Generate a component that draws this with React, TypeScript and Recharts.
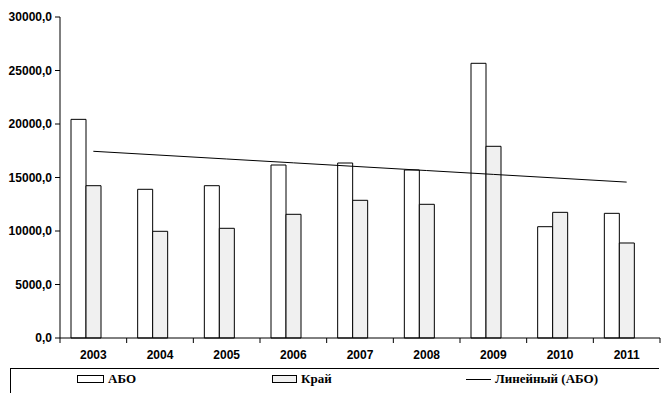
import { ComposedChart, Bar, Line, XAxis, YAxis } from 'recharts';

const years = ['2003', '2004', '2005', '2006', '2007', '2008', '2009', '2010', '2011'];
const abo = [20435, 13897, 14234, 16168, 16355, 15700, 25673, 10402, 11651];
const krai = [14234, 9972, 10252, 11560, 12869, 12495, 17916, 11745, 8879];
// linear trend of АБО
const aboTrend = [17450, 17090, 16730, 16370, 16010, 15650, 15290, 14930, 14570];
const yTicks = [0, 5000, 10000, 15000, 20000, 25000, 30000];

const data = years.map((year, i) => ({
  year,
  abo: abo[i],
  krai: krai[i],
  trend: aboTrend[i],
}));

const fmt = (v: number) => `${v},0`;

const BAND = 600 / years.length;

function YearTick(props: any) {
  const { x, y, payload, index } = props;
  const left = x - BAND / 2;
  return (
    <g>
      <line x1={left} y1={y - 8} x2={left} y2={y - 3} stroke="#000" />
      {index === years.length - 1 && (
        <line x1={left + BAND} y1={y - 8} x2={left + BAND} y2={y - 3} stroke="#000" />
      )}
      <text
        x={x}
        y={y + 13}
        textAnchor="middle"
        fontSize={12}
        fontWeight="bold"
        fontFamily="'Liberation Sans', Arial, sans-serif"
        fill="#000"
      >
        {payload.value}
      </text>
    </g>
  );
}

function LegendBox() {
  const item = { position: 'absolute' as const, top: 0, display: 'flex', alignItems: 'center', height: 20 };
  const txt = {
    fontFamily: "'Liberation Serif', 'Times New Roman', serif",
    fontWeight: 700,
    fontSize: 13,
    color: '#000',
    marginLeft: 4,
  };
  return (
    <div
      style={{
        position: 'absolute',
        left: 10,
        top: 368,
        width: 648,
        height: 30,
        borderTop: '1px solid #000',
        borderLeft: '1px solid #000',
      }}
    >
      <div style={{ ...item, left: 66 }}>
        <div style={{ width: 25, height: 6, border: '1px solid #000', background: '#fff' }} />
        <span style={txt}>АБО</span>
      </div>
      <div style={{ ...item, left: 261 }}>
        <div style={{ width: 23, height: 6, border: '1px solid #000', background: '#f0f0f0' }} />
        <span style={txt}>Край</span>
      </div>
      <div style={{ ...item, left: 455 }}>
        <div style={{ width: 25, height: 1, background: '#000' }} />
        <span style={txt}>Линейный (АБО)</span>
      </div>
    </div>
  );
}

export default function App() {
  return (
    <div style={{ position: 'absolute', left: 0, top: 0, width: 665, height: 393, background: '#fff' }}>
      <ComposedChart
        width={665}
        height={393}
        data={data}
        margin={{ top: 17, right: 5, left: 0, bottom: 25 }}
        barGap={0}
        barSize={15}
      >
        <XAxis
          dataKey="year"
          height={30}
          axisLine={{ stroke: '#000' }}
          tickLine={false}
          tick={<YearTick />}
          interval={0}
        />
        <YAxis
          width={60}
          domain={[0, 30000]}
          ticks={yTicks}
          tickFormatter={fmt}
          axisLine={{ stroke: '#000' }}
          tickLine={{ stroke: '#000' }}
          tickSize={5}
          tickMargin={3}
          tick={{ fontSize: 12, fontWeight: 'bold', fill: '#000', fontFamily: "'Liberation Sans', Arial, sans-serif" }}
        />
        <Bar dataKey="abo" fill="#ffffff" stroke="#000" strokeWidth={1} isAnimationActive={false} />
        <Bar dataKey="krai" fill="#f0f0f0" stroke="#000" strokeWidth={1} isAnimationActive={false} />
        <Bar dataKey="spacer" fill="none" legendType="none" isAnimationActive={false} />
        <Line
          dataKey="trend"
          type="linear"
          stroke="#000"
          strokeWidth={1}
          dot={false}
          activeDot={false}
          isAnimationActive={false}
        />
      </ComposedChart>
      <LegendBox />
    </div>
  );
}
